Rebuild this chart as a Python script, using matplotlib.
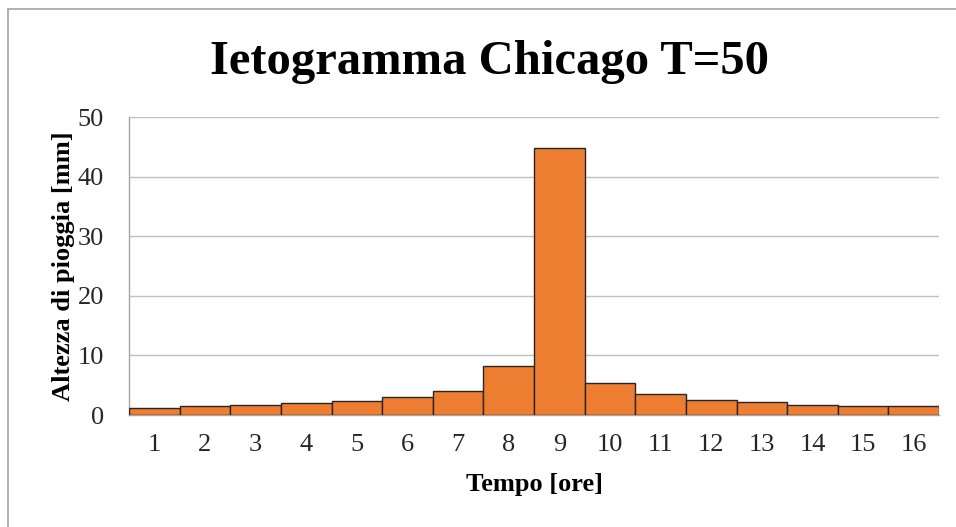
import matplotlib.pyplot as plt
from matplotlib.lines import Line2D

ore = [str(i) for i in range(1, 17)]
altezza = [1.23, 1.47, 1.69, 1.97, 2.36, 3.04, 4.1, 8.2, 44.8,
           5.45, 3.49, 2.58, 2.19, 1.74, 1.47, 1.47]

plt.rcParams['font.family'] = ['Liberation Serif', 'DejaVu Serif']

fig = plt.figure(figsize=(9.56, 5.27), dpi=100)
ax = fig.add_axes([129 / 956, 112 / 527, 810 / 956, 298 / 527])

ax.bar(range(len(ore)), altezza, width=1.0, color='#ED7D31',
       edgecolor='#262626', linewidth=1.0, zorder=3)

ax.set_xlim(-0.5, len(ore) - 0.5)
ax.set_ylim(0, 50)
ax.set_yticks(range(0, 51, 10))
ax.set_xticks(range(len(ore)))
ax.set_xticklabels(ore)
ax.tick_params(axis='both', length=0, labelsize=19, colors='#262626')
ax.tick_params(axis='x', pad=14)
ax.tick_params(axis='y', pad=18)
ax.grid(axis='y', color='#BFBFBF', linewidth=1.0, zorder=0)

for s in ['top', 'right']:
    ax.spines[s].set_visible(False)
for s in ['left', 'bottom']:
    ax.spines[s].set_color('#A6A6A6')
    ax.spines[s].set_linewidth(1.0)

ax.set_xlabel('Tempo [ore]', fontsize=19, fontweight='bold', labelpad=12)
ax.set_ylabel('Altezza di pioggia [mm]', fontsize=19, fontweight='bold', labelpad=2)

fig.text(490 / 956, 1 - 62 / 527, 'Ietogramma Chicago T=50', ha='center', va='center',
         fontsize=35, fontweight='bold')

# bordo del grafico
fig.add_artist(Line2D([8 / 956, 8 / 956], [0, 1 - 9 / 527], color='#A6A6A6', linewidth=1.2))
fig.add_artist(Line2D([8 / 956, 1], [1 - 9 / 527, 1 - 9 / 527], color='#A6A6A6', linewidth=1.2))

fig.savefig('out.png', dpi=100)
